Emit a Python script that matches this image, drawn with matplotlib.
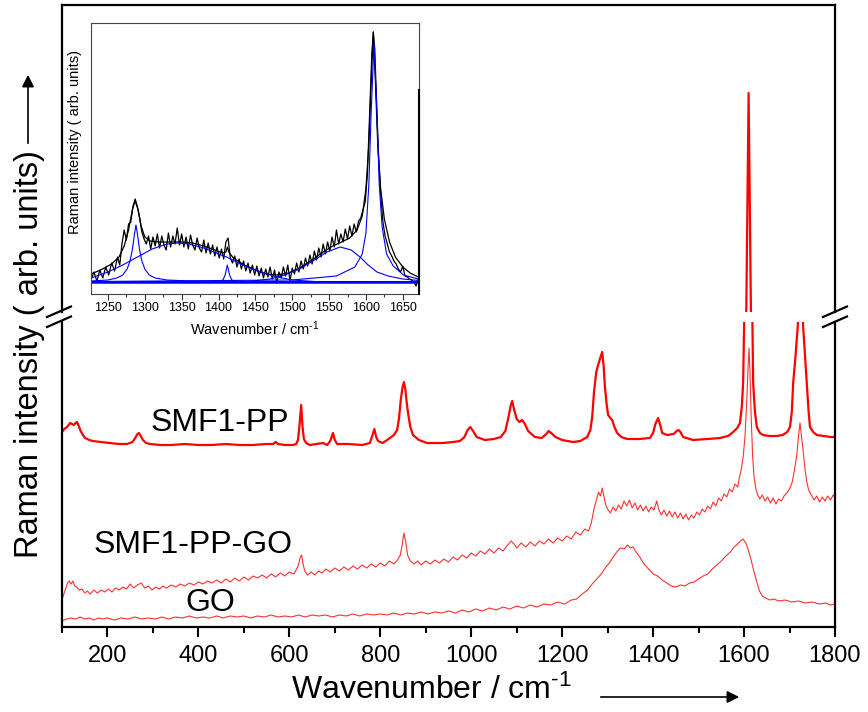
import matplotlib
matplotlib.use("Agg")
import matplotlib.pyplot as plt
from matplotlib.lines import Line2D
from matplotlib.ticker import MultipleLocator

plt.rcParams['font.family'] = ['Liberation Sans', 'DejaVu Sans']
plt.rcParams['mathtext.fontset'] = 'custom'
plt.rcParams['mathtext.rm'] = 'Liberation Sans'
plt.rcParams['mathtext.it'] = 'Liberation Sans:italic'
plt.rcParams['mathtext.bf'] = 'Liberation Sans:bold'

# ---- main spectra (wavenumber in cm-1, intensity in arb. units) ----
pp_x = [100, 105, 111, 118, 122, 126, 130, 133, 137, 140,
        146, 151, 160, 168, 185, 206, 225, 243, 255, 261,
        266, 269, 272, 278, 285, 294, 316, 340, 370, 400,
        430, 460, 490, 520, 550, 564, 570, 575, 590, 608,
        615, 619, 622, 626, 629, 632, 637, 645, 674, 683,
        690, 696, 700, 705, 730, 760, 777, 783, 787, 791,
        795, 805, 815, 821, 830, 837, 841, 845, 849, 852,
        855, 858, 861, 866, 872, 885, 903, 938, 960, 975,
        985, 992, 998, 1004, 1012, 1030, 1050, 1065, 1075, 1082,
        1087, 1090, 1094, 1100, 1106, 1112, 1118, 1125, 1140, 1155,
        1165, 1170, 1176, 1185, 1200, 1224, 1240, 1255, 1262, 1266,
        1270, 1275, 1279, 1283, 1288, 1291, 1294, 1298, 1301, 1306,
        1310, 1315, 1321, 1330, 1343, 1370, 1393, 1400, 1405, 1411,
        1415, 1420, 1431, 1445, 1452, 1456, 1460, 1466, 1488, 1520,
        1547, 1565, 1576, 1585, 1591, 1595, 1598, 1600, 1605, 1610,
        1615, 1618.5, 1620, 1624, 1628, 1635, 1642, 1655, 1672, 1685,
        1695, 1701, 1705, 1708, 1713, 1718, 1724, 1730, 1735, 1738,
        1742, 1745, 1752, 1760, 1775, 1790, 1800]
pp_y = [195, 198, 200, 204, 203, 202, 204, 205, 201, 197,
        192, 189, 187, 186, 185, 184, 183, 183, 185, 189,
        193, 194, 192, 187, 184, 183, 182, 182, 183, 182,
        182, 183, 182, 182, 183, 183, 185, 183, 182, 182,
        183, 187, 200, 222, 200, 188, 184, 182, 184, 182,
        186, 194, 187, 183, 183, 182, 184, 192, 198, 190,
        186, 184, 187, 189, 192, 197, 208, 227, 240, 245,
        238, 225, 214, 200, 192, 187, 184, 184, 185, 186,
        190, 197, 200, 196, 190, 187, 188, 190, 196, 210,
        222, 226, 218, 208, 205, 207, 203, 196, 190, 189,
        193, 196, 194, 190, 187, 185, 186, 190, 197, 210,
        235, 255, 262, 268, 275, 262, 240, 222, 212, 209,
        207, 200, 194, 190, 188, 188, 189, 194, 203, 209,
        203, 194, 192, 193, 196, 197, 195, 190, 187, 188,
        189, 191, 195, 199, 204, 220, 244, 300, 405, 619,
        405, 300, 244, 215, 200, 194, 192, 191, 191, 192,
        195, 200, 215, 244, 270, 300, 360, 300, 265, 244,
        215, 200, 195, 192, 191, 190, 190]

ppgo_x = [100, 104, 108, 112, 116, 120, 124, 128, 132, 138,
          144, 150, 156, 162, 170, 178, 186, 194, 202, 210,
          218, 226, 234, 242, 250, 258, 266, 274, 282, 290,
          298, 306, 314, 322, 330, 340, 350, 360, 370, 380,
          390, 400, 410, 420, 430, 440, 450, 460, 470, 480,
          490, 500, 510, 520, 530, 540, 550, 560, 570, 580,
          590, 600, 610, 616, 620, 624, 627, 630, 634, 640,
          648, 656, 664, 672, 680, 690, 700, 710, 720, 730,
          740, 750, 760, 770, 780, 790, 800, 810, 820, 830,
          838, 844, 848, 852, 856, 860, 866, 874, 882, 890,
          900, 910, 920, 930, 940, 950, 960, 970, 980, 990,
          1000, 1010, 1020, 1030, 1040, 1050, 1060, 1070, 1080, 1088,
          1094, 1100, 1110, 1120, 1130, 1140, 1150, 1160, 1170, 1180,
          1190, 1200, 1210, 1220, 1230, 1240, 1250, 1258, 1264, 1270,
          1276, 1280, 1284, 1288, 1292, 1296, 1300, 1306, 1312, 1318,
          1324, 1330, 1336, 1342, 1348, 1354, 1360, 1366, 1372, 1378,
          1384, 1390, 1396, 1402, 1408, 1412, 1418, 1424, 1430, 1436,
          1442, 1448, 1454, 1460, 1466, 1472, 1478, 1484, 1490, 1496,
          1502, 1508, 1514, 1520, 1526, 1532, 1538, 1544, 1550, 1556,
          1562, 1568, 1574, 1580, 1586, 1590, 1594, 1598, 1602, 1606,
          1609, 1611, 1613, 1616, 1619, 1622, 1626, 1630, 1635, 1640,
          1646, 1652, 1658, 1664, 1670, 1676, 1682, 1688, 1694, 1700,
          1706, 1712, 1716, 1720, 1723, 1726, 1730, 1734, 1738, 1742,
          1748, 1754, 1760, 1766, 1772, 1778, 1784, 1790, 1796, 1800]
ppgo_y = [27, 33, 38, 44, 46, 43, 46, 41, 40, 37,
          38, 34, 36, 33, 37, 34, 37, 35, 38, 35,
          39, 37, 40, 38, 43, 39, 42, 44, 39, 41,
          37, 40, 38, 41, 39, 42, 40, 43, 41, 44,
          42, 45, 43, 46, 44, 47, 44, 48, 45, 49,
          46, 50, 47, 51, 49, 52, 49, 53, 50, 54,
          51, 55, 53, 58, 62, 70, 72, 63, 56, 52,
          55, 52, 56, 54, 58, 55, 59, 56, 60, 57,
          61, 58, 62, 59, 63, 60, 64, 61, 66, 63,
          67, 72, 82, 94, 85, 72, 66, 63, 66, 62,
          66, 63, 67, 64, 68, 65, 70, 67, 72, 69,
          74, 71, 76, 73, 78, 74, 79, 76, 82, 86,
          83, 79, 84, 80, 85, 81, 86, 83, 88, 84,
          89, 86, 91, 88, 95, 92, 98, 96, 104, 118,
          128, 135, 131, 139, 130, 122, 118, 114, 120, 116,
          122, 118, 126, 121, 127, 119, 124, 117, 122, 116,
          121, 115, 120, 117, 126, 118, 112, 117, 111, 116,
          110, 115, 109, 114, 108, 113, 107, 112, 109, 115,
          112, 118, 115, 121, 118, 125, 121, 129, 126, 133,
          130, 138, 135, 143, 140, 150, 158, 170, 190, 227,
          262, 279, 255, 205, 170, 150, 138, 132, 128, 132,
          126, 130, 124, 129, 123, 128, 126, 131, 134, 138,
          145, 160, 172, 192, 204, 192, 176, 158, 145, 137,
          132, 127, 131, 125, 130, 126, 131, 127, 132, 129]

go_x = [100, 110, 120, 130, 140, 150, 160, 170, 180, 190,
        200, 215, 230, 245, 260, 275, 290, 305, 320, 335,
        350, 365, 380, 395, 410, 425, 440, 455, 470, 485,
        500, 515, 530, 545, 560, 575, 590, 605, 620, 635,
        650, 665, 680, 695, 710, 725, 740, 755, 770, 785,
        800, 815, 830, 845, 860, 875, 890, 905, 920, 935,
        950, 965, 980, 995, 1010, 1025, 1040, 1055, 1070, 1085,
        1100, 1115, 1130, 1145, 1160, 1175, 1190, 1205, 1220, 1232,
        1244, 1256, 1266, 1276, 1286, 1296, 1304, 1312, 1320, 1328,
        1336, 1344, 1350, 1356, 1364, 1372, 1380, 1390, 1400, 1410,
        1420, 1430, 1440, 1450, 1460, 1470, 1480, 1490, 1500, 1510,
        1520, 1530, 1540, 1550, 1560, 1570, 1578, 1586, 1592, 1598,
        1604, 1610, 1616, 1622, 1628, 1634, 1640, 1648, 1656, 1666,
        1676, 1690, 1705, 1720, 1735, 1750, 1765, 1780, 1790, 1800]
go_y = [6, 8, 9, 8, 10, 8, 9, 7, 9, 8,
        9, 7, 9, 8, 10, 8, 9, 8, 10, 8,
        10, 9, 11, 9, 10, 9, 11, 9, 11, 10,
        11, 9, 11, 10, 12, 10, 11, 10, 12, 10,
        12, 11, 12, 10, 12, 11, 13, 11, 13, 12,
        13, 12, 14, 12, 14, 13, 15, 13, 15, 14,
        16, 14, 17, 15, 18, 16, 19, 17, 20, 18,
        21, 19, 22, 20, 23, 22, 25, 23, 27, 28,
        33, 37, 43, 48, 53, 60, 64, 70, 75, 79,
        78, 82, 79, 80, 74, 69, 63, 58, 53, 51,
        47, 44, 41, 40, 42, 41, 44, 45, 48, 51,
        53, 58, 62, 66, 71, 75, 80, 83, 86, 88,
        84, 76, 66, 55, 45, 36, 31, 29, 27, 28,
        26, 27, 25, 26, 24, 25, 23, 24, 22, 23]

# ---- inset: fitted region of SMF1-PP-GO ----
ins_x = [1227, 1231, 1235, 1239, 1243, 1247, 1251, 1255, 1259, 1263,
         1266, 1269, 1272, 1275, 1278, 1281, 1284, 1287, 1290, 1293,
         1296, 1299, 1302, 1305, 1308, 1311, 1314, 1317, 1320, 1323,
         1326, 1329, 1332, 1335, 1338, 1341, 1344, 1347, 1350, 1353,
         1356, 1359, 1362, 1365, 1368, 1371, 1374, 1377, 1380, 1383,
         1386, 1389, 1392, 1395, 1398, 1401, 1404, 1407, 1410, 1413,
         1416, 1419, 1422, 1425, 1428, 1431, 1434, 1437, 1440, 1443,
         1446, 1449, 1452, 1455, 1458, 1461, 1464, 1467, 1470, 1473,
         1476, 1479, 1482, 1485, 1488, 1491, 1494, 1497, 1500, 1503,
         1506, 1509, 1512, 1515, 1518, 1521, 1524, 1527, 1530, 1533,
         1536, 1539, 1542, 1545, 1548, 1551, 1554, 1557, 1560, 1563,
         1566, 1569, 1572, 1575, 1578, 1581, 1584, 1587, 1590, 1593,
         1596, 1599, 1602, 1605, 1608, 1610, 1612, 1614, 1617, 1620,
         1623, 1626, 1629, 1632, 1635, 1638, 1641, 1644, 1647, 1650,
         1653, 1656, 1659, 1662, 1665, 1668, 1671]
ins_y = [14, 22, 13, 24, 16, 27, 19, 31, 23, 37,
         29, 50, 64, 54, 70, 72, 88, 95, 87, 76,
         62, 55, 50, 58, 45, 57, 48, 60, 46, 58,
         49, 44, 61, 47, 58, 50, 66, 49, 60, 47,
         57, 45, 59, 49, 44, 56, 46, 42, 54, 41,
         51, 40, 49, 38, 47, 36, 45, 35, 52, 56,
         36, 31, 38, 27, 35, 25, 33, 23, 31, 21,
         29, 19, 28, 18, 26, 16, 25, 17, 27, 15,
         24, 11, 22, 16, 27, 18, 29, 13, 26, 20,
         31, 22, 33, 25, 36, 28, 39, 30, 43, 34,
         46, 37, 50, 40, 52, 43, 57, 47, 64, 50,
         60, 52, 65, 55, 68, 58, 70, 62, 73, 76,
         84, 92, 120, 180, 240, 262, 245, 200, 140, 100,
         72, 58, 50, 42, 38, 33, 30, 25, 22, 28,
         18, 17, 15, 14, 12, 8, 15]

fit_x = [1227, 1240, 1255, 1265, 1272, 1278, 1283, 1287, 1291, 1295,
         1300, 1307, 1320, 1335, 1350, 1365, 1380, 1395, 1405, 1410,
         1412, 1414, 1420, 1435, 1450, 1465, 1480, 1495, 1510, 1525,
         1540, 1555, 1567, 1578, 1588, 1595, 1600, 1604, 1607, 1610,
         1613, 1616, 1620, 1625, 1632, 1640, 1650, 1660, 1671]
fit_y = [20, 24, 30, 37, 48, 64, 84, 93, 84, 68,
         57, 53, 52, 52, 52, 51, 48, 44, 41, 42,
         47, 42, 36, 29, 24, 20, 19, 21, 26, 33,
         41, 48, 52, 56, 64, 78, 105, 150, 210, 262,
         210, 150, 105, 75, 52, 37, 27, 21, 17]

c1_x = [1227, 1250, 1262, 1270, 1276, 1280, 1283, 1286, 1288, 1290,
        1293, 1296, 1300, 1306, 1314, 1330, 1360, 1400, 1500, 1671]
c1_y = [13, 14, 16, 19, 25, 33, 44, 60, 69, 60,
        44, 33, 25, 19, 16, 14, 13, 12.5, 12, 12]
c2_x = [1227, 1250, 1270, 1290, 1310, 1330, 1345, 1360, 1380, 1400,
        1411, 1430, 1456, 1480, 1500, 1530, 1671]
c2_y = [16, 22, 29, 37, 45, 50, 51, 50, 46, 40,
        37, 30, 22, 17, 14, 12.5, 12]
c3_x = [1227, 1400, 1406, 1409, 1412, 1415, 1418, 1424, 1671]
c3_y = [12, 12.3, 14, 19, 29, 19, 14, 12.3, 12]
c4_x = [1227, 1440, 1470, 1490, 1510, 1530, 1547, 1565, 1580, 1592,
        1603, 1615, 1630, 1650, 1671]
c4_y = [12, 12.5, 15, 19, 25, 34, 42, 47, 44, 37,
        29, 22, 18, 15, 13.5]
c5_x = [1227, 1500, 1560, 1585, 1595, 1600, 1604, 1607, 1611, 1615,
        1618, 1622, 1628, 1637, 1651, 1671]
c5_y = [12.5, 14, 18, 27, 40, 61, 110, 180, 251, 180,
        110, 67, 40, 28, 19, 15]
base_x = [1227, 1671]
base_y = [12, 12]

W, H = 868, 712
fig = plt.figure(figsize=(W / 100, H / 100), dpi=100)

def fx(px):
    return px / W

def fy(py):
    return 1 - py / H

ax_lo = fig.add_axes([fx(62), fy(627), fx(835) - fx(62), fy(322) - fy(627)])
ax_hi = fig.add_axes([fx(62), fy(312), fx(835) - fx(62), fy(5) - fy(312)])

red = '#ff0000'
thin = '#ff3030'
for ax in (ax_lo, ax_hi):
    ax.plot(go_x, go_y, color=thin, lw=0.8)
    ax.plot(ppgo_x, ppgo_y, color=thin, lw=0.8)
    ax.plot(pp_x, pp_y, color=red, lw=1.6)
    ax.set_xlim(100, 1800)
    ax.set_yticks([])
    for s in ax.spines.values():
        s.set_linewidth(1.6)

ax_lo.set_ylim(0, 305)
ax_hi.set_ylim(400, 707)
ax_lo.spines['top'].set_visible(False)
ax_hi.spines['bottom'].set_visible(False)
ax_hi.set_xticks([])

ax_lo.xaxis.set_major_locator(MultipleLocator(200))
ax_lo.xaxis.set_minor_locator(MultipleLocator(100))
ax_lo.set_xticks(range(200, 1801, 200))
ax_lo.tick_params(axis='x', which='major', direction='out', length=7, width=1.5,
                  labelsize=17, pad=6)
ax_lo.tick_params(axis='x', which='minor', direction='out', length=4, width=1.5)

ax_lo.text(447, 204, 'SMF1-PP', fontsize=23, ha='center', va='center')
ax_lo.text(388, 82, 'SMF1-PP-GO', fontsize=23, ha='center', va='center')
ax_lo.text(425, 24, 'GO', fontsize=23, ha='center', va='center')

# axis titles with arrows
fig.text(fx(431), fy(690), r'Wavenumber / cm$^{\text{-1}}$', fontsize=23,
         ha='center', va='center')
fig.add_artist(plt.Annotation('', xy=(fx(742), fy(697)), xytext=(fx(598), fy(697)),
                              xycoords='figure fraction',
                              arrowprops=dict(arrowstyle='-|>', color='black', lw=1.2,
                                              mutation_scale=18)))
fig.text(fx(30), fy(354), 'Raman intensity ( arb. units)', fontsize=23.5, rotation=90,
         ha='center', va='center')
fig.add_artist(plt.Annotation('', xy=(fx(28), fy(72)), xytext=(fx(28), fy(146)),
                              xycoords='figure fraction',
                              arrowprops=dict(arrowstyle='-|>', color='black', lw=1.2,
                                              mutation_scale=18)))

# break marks
for x0 in (47, 823):
    for dy in (0, 10):
        fig.add_artist(Line2D([fx(x0), fx(x0 + 24)], [fy(317 + dy), fy(306.5 + dy)],
                              color='black', lw=1.6))

# inset
ins = fig.add_axes([fx(91), fy(294), fx(419) - fx(91), fy(23) - fy(294)])
ins.plot(ins_x, ins_y, color='black', lw=0.9)
ins.plot(fit_x, fit_y, color='black', lw=0.9)
for cx, cy in ((c1_x, c1_y), (c2_x, c2_y), (c3_x, c3_y), (c4_x, c4_y), (c5_x, c5_y)):
    ins.plot(cx, cy, color='#0000ff', lw=0.8)
ins.plot(base_x, base_y, color='#0000ff', lw=1.8)
ins.set_xlim(1227, 1672)
ins.set_ylim(0, 271)
ins.set_yticks([])
ins.xaxis.set_major_locator(MultipleLocator(50))
ins.xaxis.set_minor_locator(MultipleLocator(25))
ins.tick_params(axis='x', which='major', direction='out', length=4, width=0.8,
                labelsize=9, pad=2, color='#333333')
ins.tick_params(axis='x', which='minor', direction='out', length=2, width=0.8, color='#333333')
for s in ins.spines.values():
    s.set_linewidth(0.8)
    s.set_color('#444444')
ins.set_xlabel(r'Wavenumber / cm$^{\text{-1}}$', fontsize=10.5)
ins.xaxis.set_label_coords(0.5, -0.095)
ins.set_ylabel('Raman intensity ( arb. units)', fontsize=10.5)
ins.yaxis.set_label_coords(-0.026, 0.56)
fig.add_artist(Line2D([fx(419), fx(419)], [fy(90), fy(294)], color='black', lw=1.5))

fig.savefig('out.png', dpi=100)
